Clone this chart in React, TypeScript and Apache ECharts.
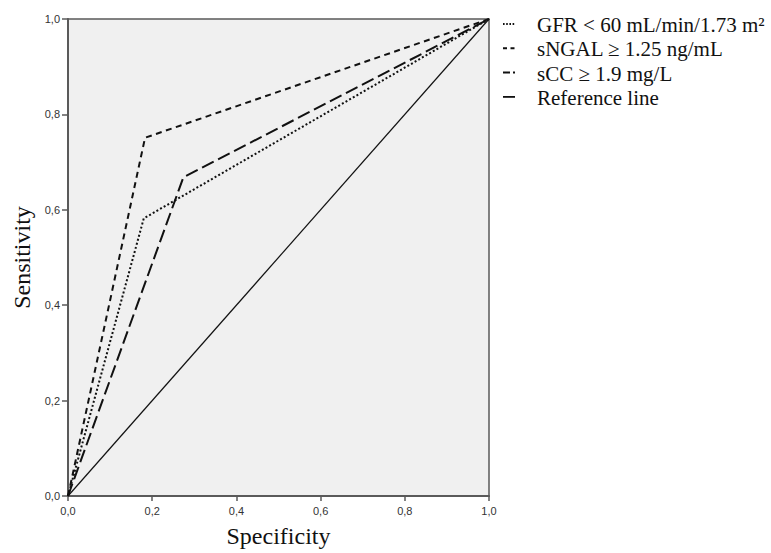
import React, { useEffect, useRef } from "react";
import * as echarts from "echarts";

const seriesNames = [
  "GFR < 60 mL/min/1.73 m\u00B2",
  "sNGAL \u2265 1.25 ng/mL",
  "sCC \u2265 1.9 mg/L",
  "Reference line",
];
const gfrX = [0, 0.18, 1];
const gfrY = [0, 0.582, 1];
const sngalX = [0, 0.183, 1];
const sngalY = [0, 0.751, 1];
const sccX = [0, 0.274, 1];
const sccY = [0, 0.668, 1];
const refX = [0, 1];
const refY = [0, 1];
const xTicks = [0, 0.2, 0.4, 0.6, 0.8, 1.0];

const lineStyles: any[] = [
  { type: [2, 2.2], width: 2 },
  { type: [6, 4.5], width: 2 },
  { type: [13, 5], width: 2 },
  { type: "solid", width: 1.2 },
];

const zip = (xs: number[], ys: number[]) => xs.map((x, i) => [x, ys[i]]);

export default function App() {
  const ref = useRef<HTMLDivElement>(null);
  useEffect(() => {
    document.body.style.margin = "0";
    const chart = echarts.init(ref.current!, null, { renderer: "svg" });
    const datasets = [zip(gfrX, gfrY), zip(sngalX, sngalY), zip(sccX, sccY), zip(refX, refY)];
    const fmt = (v: number) => v.toFixed(1).replace(".", ",");
    const serif = "'Liberation Serif', 'Times New Roman', serif";
    const legendGraphics: any[] = [];
    seriesNames.forEach((name, i) => {
      const y = 24 + i * 24.3;
      legendGraphics.push({
        type: "line",
        shape: { x1: 503, y1: y, x2: 515, y2: y },
        style: {
          stroke: "#111",
          lineWidth: i === 3 ? 1.8 : 2,
          lineDash: i === 0 ? [1.6, 1.6] : i === 1 ? [4, 3.5] : i === 2 ? [7, 3] : null,
        },
      });
      legendGraphics.push({
        type: "text",
        x: 537,
        y: y + 1,
        style: {
          text: name,
          font: `21px ${serif}`,
          fill: "#111",
          verticalAlign: "middle",
          align: "left",
        },
      });
    });
    chart.setOption({
      animation: false,
      backgroundColor: "#ffffff",
      grid: {
        left: 68,
        top: 19,
        width: 421,
        height: 483,
        show: true,
        backgroundColor: "#f0f0f0",
        borderColor: "#5a5a5a",
        borderWidth: 1.5,
      },
      xAxis: {
        type: "value",
        min: 0,
        max: 1,
        interval: 0.2,
        name: "Specificity",
        nameLocation: "middle",
        nameGap: 28,
        nameTextStyle: { fontFamily: serif, fontSize: 24, color: "#111" },
        axisLine: { show: true, lineStyle: { color: "#5a5a5a", width: 2 } },
        axisTick: { show: true, length: 5, lineStyle: { color: "#5a5a5a", width: 1.5 } },
        axisLabel: {
          formatter: (v: number) => (xTicks.some((t) => Math.abs(t - v) < 1e-9) ? fmt(v) : ""),
          fontFamily: "'Liberation Sans', Arial, sans-serif",
          fontSize: 11,
          color: "#333",
          margin: 9,
        },
        splitLine: { show: false },
      },
      yAxis: {
        type: "value",
        min: 0,
        max: 1,
        interval: 0.2,
        name: "Sensitivity",
        nameLocation: "middle",
        nameGap: 33,
        nameTextStyle: { fontFamily: serif, fontSize: 24, color: "#111" },
        axisLine: { show: true, lineStyle: { color: "#5a5a5a", width: 2 } },
        axisTick: { show: true, length: 6, lineStyle: { color: "#5a5a5a", width: 1.5 } },
        axisLabel: {
          formatter: fmt,
          fontFamily: "'Liberation Sans', Arial, sans-serif",
          fontSize: 11,
          color: "#333",
          margin: 8,
        },
        splitLine: { show: false },
      },
      series: datasets.map((d, i) => ({
        name: seriesNames[i],
        type: "line",
        data: d,
        symbol: "none",
        smooth: false,
        lineStyle: { color: "#111", ...lineStyles[i] },
        z: 10 - i,
      })),
      graphic: legendGraphics,
    });
    return () => chart.dispose();
  }, []);
  return <div ref={ref} style={{ width: 771, height: 553 }} />;
}
